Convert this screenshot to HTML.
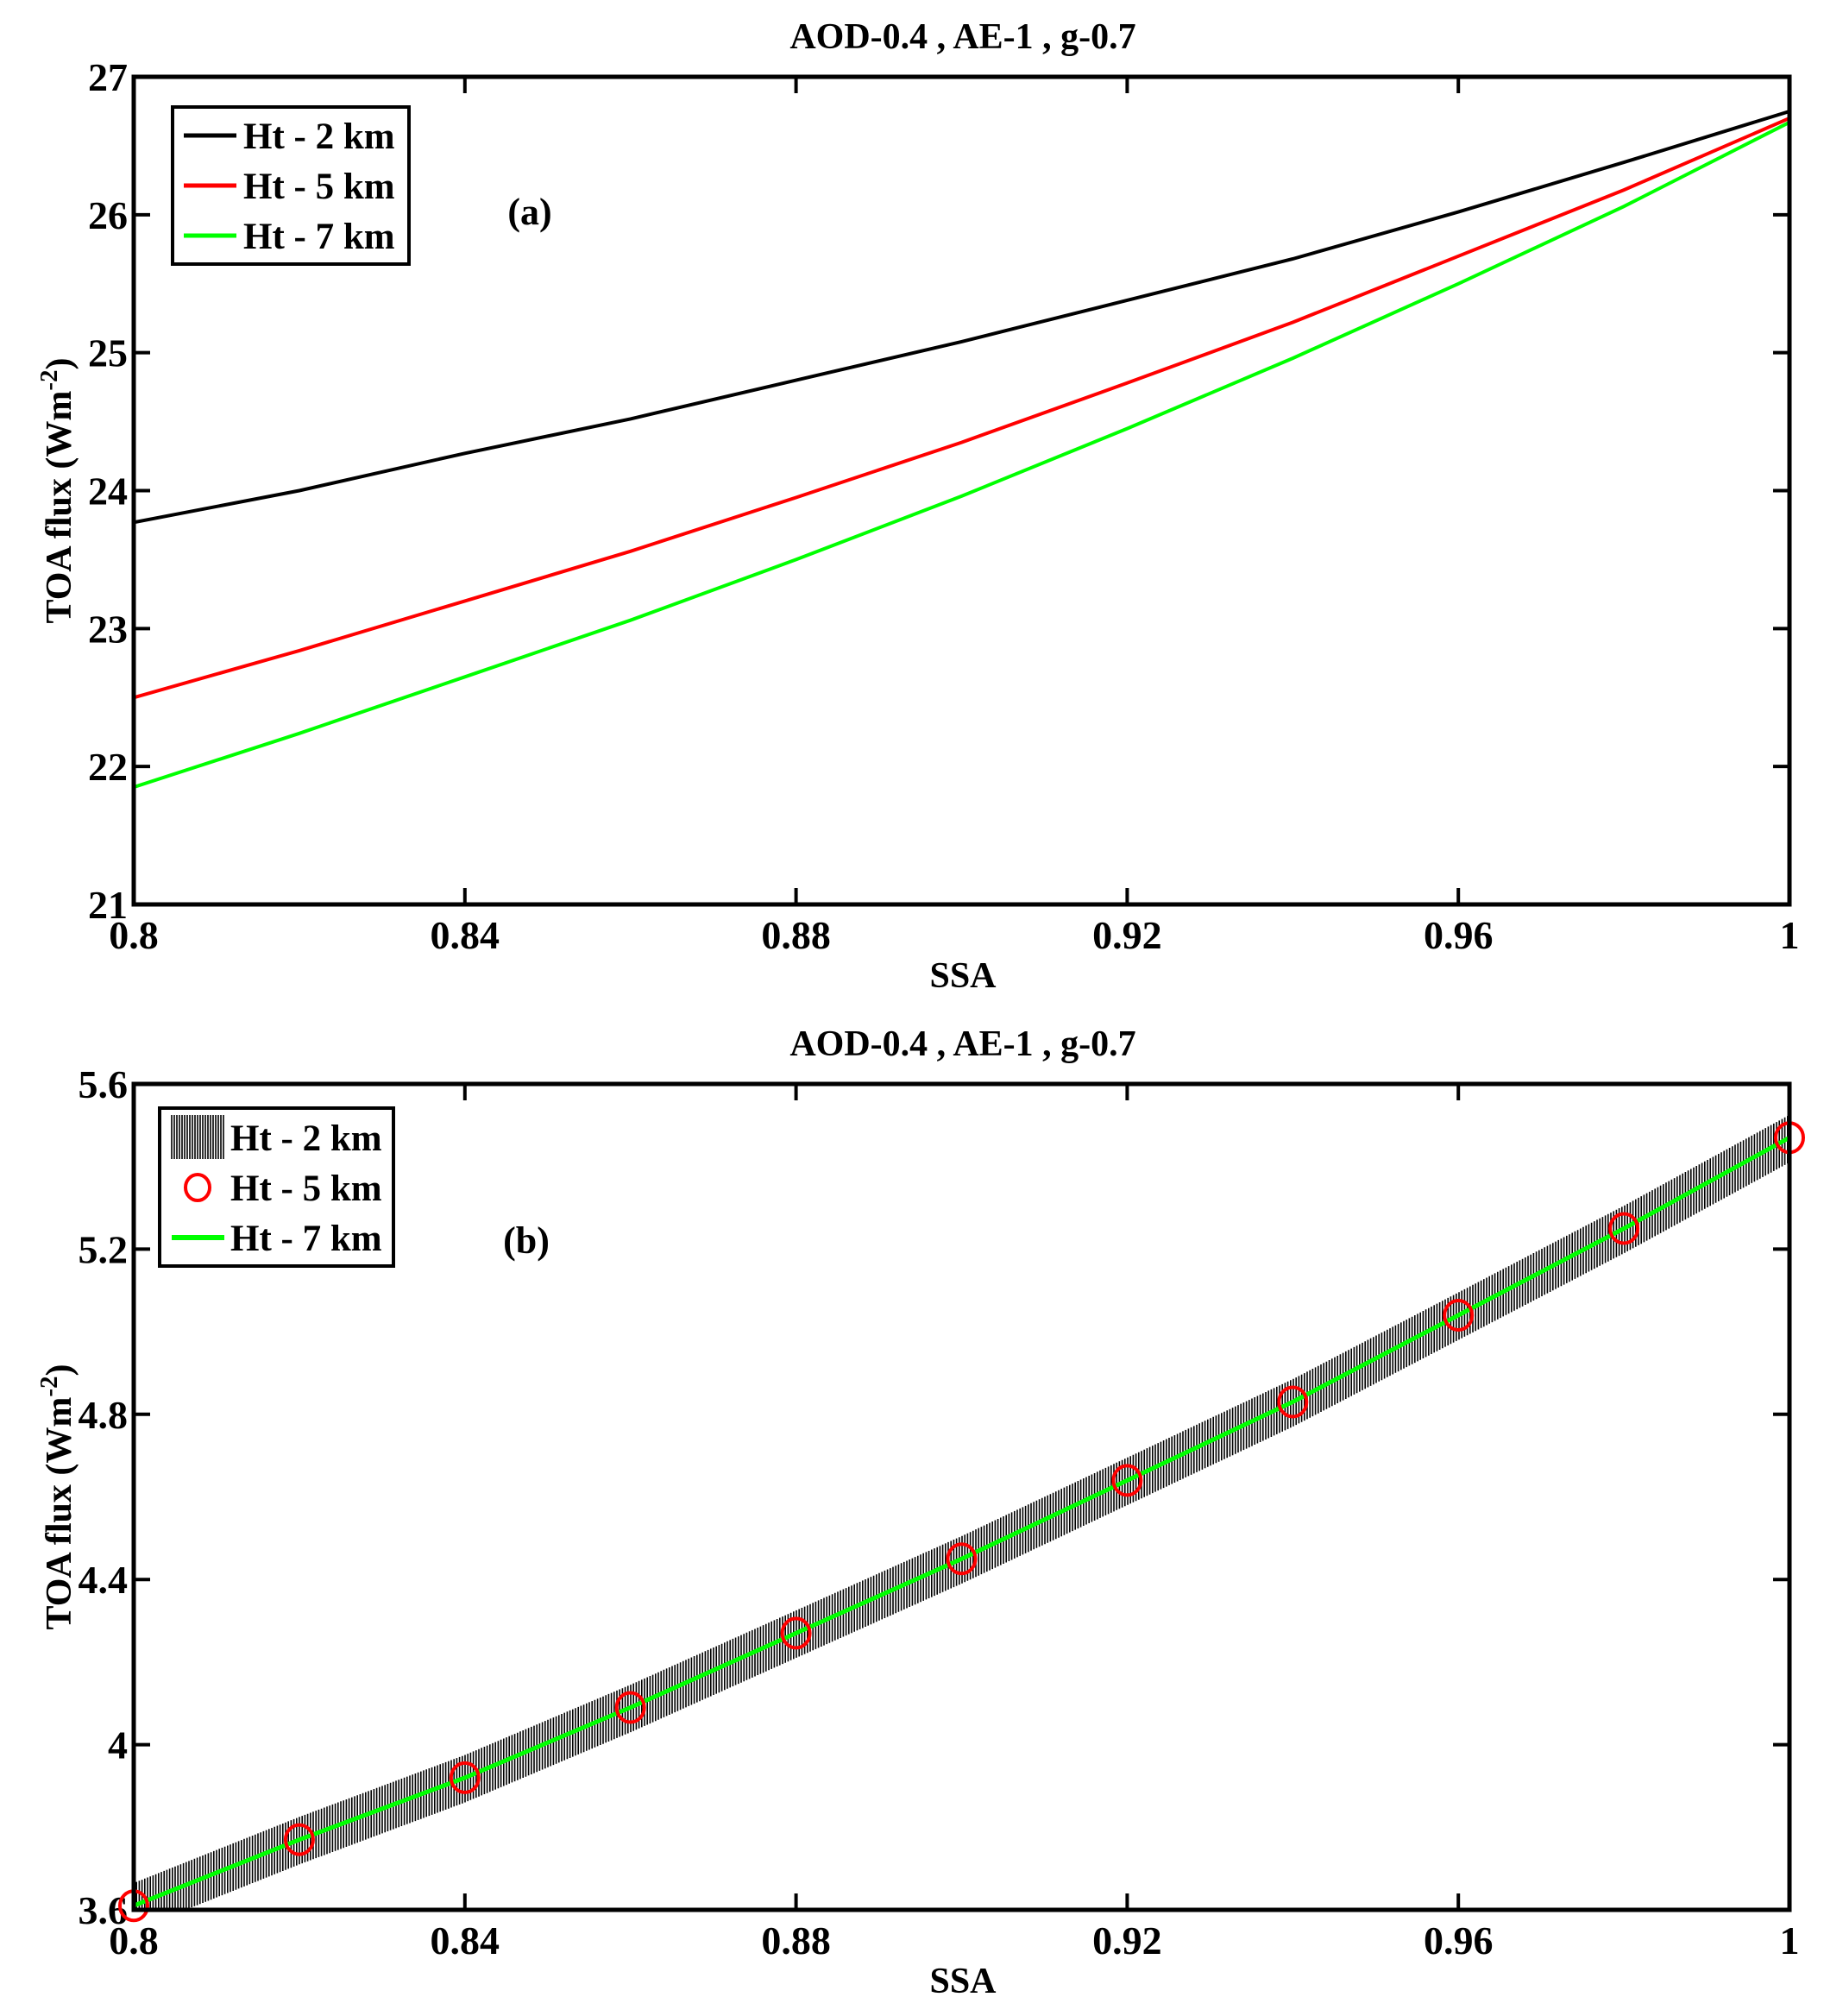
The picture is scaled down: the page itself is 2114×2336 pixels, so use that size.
<!DOCTYPE html>
<html><head><meta charset="utf-8"><style>
html,body{margin:0;padding:0;background:#fff}
svg text{font-family:"Liberation Serif",serif;font-weight:bold;fill:#000}
</style></head><body>
<svg id="fig" width="2114" height="2331" viewBox="0 0 2114 2331" xmlns="http://www.w3.org/2000/svg">
<defs>
<clipPath id="clipA"><rect x="155" y="89" width="1919" height="959"/></clipPath>
<clipPath id="clipB"><rect x="155" y="1256" width="1919" height="957"/></clipPath>
</defs>
<g id="gA"></g>
<g id="gB"></g>
</svg>
<script>
const ssa = [0.80,0.82,0.84,0.86,0.88,0.90,0.92,0.94,0.96,0.98,1.00];
const a2km = [23.77,24.00,24.27,24.52,24.80,25.08,25.38,25.68,26.02,26.38,26.75];
const a5km = [22.50,22.84,23.20,23.56,23.95,24.35,24.78,25.22,25.70,26.18,26.70];
const a7km = [21.85,22.24,22.65,23.06,23.50,23.96,24.45,24.96,25.50,26.06,26.67];
const b2km = [3.61,3.77,3.92,4.09,4.27,4.45,4.64,4.83,5.04,5.25,5.47];
const b5km = [3.61,3.77,3.92,4.09,4.27,4.45,4.64,4.83,5.04,5.25,5.47];
const b7km = [3.61,3.77,3.92,4.09,4.27,4.45,4.64,4.83,5.04,5.25,5.47];
const xTicks = [0.8,0.84,0.88,0.92,0.96,1.0];
const xTickLabels = ["0.8","0.84","0.88","0.92","0.96","1"];
const aTicks = [21,22,23,24,25,26,27];
const bTicks = [3.6,4.0,4.4,4.8,5.2,5.6];
const bTickLabels = ["3.6","4","4.4","4.8","5.2","5.6"];

const NS="http://www.w3.org/2000/svg";
function mk(p,tag,at,txt){const e=document.createElementNS(NS,tag);for(const k in at)e.setAttribute(k,at[k]);if(txt!==undefined)e.textContent=txt;p.appendChild(e);return e;}
const L=155,R=2074;
const X=v=>L+(v-0.8)/0.2*(R-L);
function interp(xs,ys,x){for(let i=0;i<xs.length-1;i++){if(x<=xs[i+1]){const t=(x-xs[i])/(xs[i+1]-xs[i]);return ys[i]+t*(ys[i+1]-ys[i]);}}return ys[ys.length-1];}

function axes(g,T,B,Y,yt,ytl,title,tag){
  let e;
  e=mk(g,'text',{x:1116,y:T-33,'font-size':42,'text-anchor':'middle'},title);
  
  
  xTicks.forEach((v,i)=>{
    mk(g,'line',{x1:X(v),x2:X(v),y1:B,y2:B-19,stroke:'#000','stroke-width':4});
    mk(g,'line',{x1:X(v),x2:X(v),y1:T,y2:T+19,stroke:'#000','stroke-width':4});
    e=mk(g,'text',{x:X(v),y:B+51,'font-size':46,'text-anchor':'middle'},xTickLabels[i]);
    
    
  });
  yt.forEach((v,i)=>{
    mk(g,'line',{x1:L,x2:L+19,y1:Y(v),y2:Y(v),stroke:'#000','stroke-width':4});
    mk(g,'line',{x1:R,x2:R-19,y1:Y(v),y2:Y(v),stroke:'#000','stroke-width':4});
    e=mk(g,'text',{x:L-7,y:Y(v)+16,'font-size':46,'text-anchor':'end'},ytl[i]);
    
    
  });
  e=mk(g,'text',{x:1116,y:B+96,'font-size':42,'text-anchor':'middle'},'SSA');
  
  
  const cy=(T+B)/2;
  e=mk(g,'text',{x:0,y:0,'font-size':42,'text-anchor':'middle',transform:`translate(82,${cy}) rotate(-90)`});
  
  
  e.innerHTML='TOA flux (Wm<tspan dy="-16" font-size="29">-2</tspan><tspan dy="16">)</tspan>';
  e=mk(g,'text',{x:tag[1],y:tag[2],'font-size':44,'text-anchor':'middle'},tag[0]);
  
  
}
function frame(g,T,B){mk(g,'rect',{x:L,y:T,width:R-L,height:B-T,fill:'none',stroke:'#000','stroke-width':5});}
function path(ys,Y){return ssa.map((v,i)=>(i?'L':'M')+X(v).toFixed(1)+','+Y(ys[i]).toFixed(1)).join(' ');}

// Panel A
const gA=document.getElementById('gA');
const TA=89,BA=1048;const YA=v=>BA-(v-21)/6*(BA-TA);
axes(gA,TA,BA,YA,aTicks,aTicks.map(String),'AOD-0.4 , AE-1 , g-0.7',['(a)',614,260]);
const cA=mk(gA,'g',{'clip-path':'url(#clipA)'});
[[a2km,'#000','line-2km'],[a5km,'#f00','line-5km'],[a7km,'#0f0','line-7km']].forEach(s=>{
  const p=mk(cA,'path',{d:path(s[0],YA),fill:'none',stroke:s[1],'stroke-width':4});
  
  
});
frame(gA,TA,BA);
let lg=mk(gA,'g',{});


mk(lg,'rect',{x:200,y:124,width:274,height:182,fill:'#fff',stroke:'#000','stroke-width':4});
[['Ht - 2 km','#000',157],['Ht - 5 km','#f00',215],['Ht - 7 km','#0f0',273]].forEach(r=>{
  mk(lg,'line',{x1:213,x2:274,y1:r[2],y2:r[2],stroke:r[1],'stroke-width':5});
  const t=mk(lg,'text',{x:282,y:r[2]+15,'font-size':43},r[0]);
  
  
});

// Panel B
const gB=document.getElementById('gB');
const TB=1256,BB=2213;const YB=v=>BB-(v-3.6)/2*(BB-TB);
axes(gB,TB,BB,YB,bTicks,bTickLabels,'AOD-0.4 , AE-1 , g-0.7',['(b)',610,1452]);
const cB=mk(gB,'g',{'clip-path':'url(#clipB)'});
const band=mk(cB,'g',{stroke:'#000','stroke-width':1.6});


let d='';
for(let px=L;px<=R;px+=3.2){
  const v=0.8+(px-L)/(R-L)*0.2;const y=interp(ssa,b2km,v);
  d+=`M${px.toFixed(1)},${YB(y+0.055).toFixed(1)}V${YB(y-0.06).toFixed(1)}`;
}
mk(band,'path',{d:d,fill:'none'});
const gl=mk(cB,'path',{d:path(b7km,YB),fill:'none',stroke:'#0f0','stroke-width':5});


ssa.forEach((v,i)=>{
  const c=mk(gB,'ellipse',{cx:X(v),cy:YB(b5km[i]),rx:16,ry:17,fill:'none',stroke:'#f00','stroke-width':4});
  
  
});
frame(gB,TB,BB);
lg=mk(gB,'g',{});


mk(lg,'rect',{x:185,y:1284,width:271,height:183,fill:'#fff',stroke:'#000','stroke-width':4});
let hp='';for(let x=199;x<=260;x+=3)hp+=`M${x},1292V1343`;
mk(lg,'path',{d:hp,stroke:'#000','stroke-width':1.6});
mk(lg,'ellipse',{cx:229,cy:1376,rx:14,ry:15,fill:'none',stroke:'#f00','stroke-width':4});
mk(lg,'line',{x1:199,x2:260,y1:1434,y2:1434,stroke:'#0f0','stroke-width':6});
[['Ht - 2 km',1318],['Ht - 5 km',1376],['Ht - 7 km',1434]].forEach(r=>{
  const t=mk(lg,'text',{x:267,y:r[1]+15,'font-size':43},r[0]);
  
  
});
</script>
</body></html>
